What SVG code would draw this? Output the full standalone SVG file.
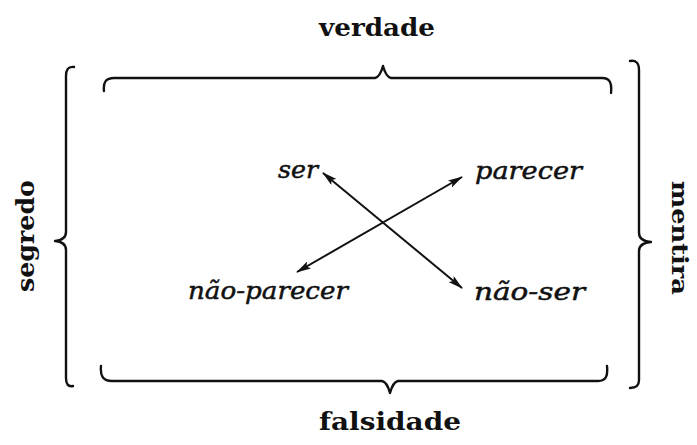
<svg xmlns="http://www.w3.org/2000/svg" width="697" height="445" viewBox="0 0 697 445">
<style>
.lbl{font-family:"DejaVu Serif","Liberation Serif",serif;font-weight:bold;font-size:25px;fill:#111}
.term{font-family:"DejaVu Serif","Liberation Serif",serif;font-style:italic;font-size:25px;fill:#111;stroke:#111;stroke-width:0.5}
.br{fill:none;stroke:#111;stroke-width:2.4;stroke-linecap:round;stroke-linejoin:round}
.ar{fill:none;stroke:#111;stroke-width:2}
</style>
<defs>
<marker id="ah" viewBox="0 0 15 8" refX="14" refY="4" markerWidth="15" markerHeight="8" markerUnits="userSpaceOnUse" orient="auto-start-reverse">
<path d="M0,0 L15,4 L0,8 L3,4 Z" fill="#111"/>
</marker>
</defs>
<rect width="697" height="445" fill="#fff"/>
<g id="verdade"><text class="lbl" x="377" y="36" text-anchor="middle" textLength="116" lengthAdjust="spacingAndGlyphs">verdade</text></g>
<g id="falsidade"><text class="lbl" x="390" y="430" text-anchor="middle" textLength="142" lengthAdjust="spacingAndGlyphs">falsidade</text></g>
<g id="segredo"><text class="lbl" transform="translate(34,236) rotate(-90)" text-anchor="middle" textLength="112" lengthAdjust="spacingAndGlyphs">segredo</text></g>
<g id="mentira"><text class="lbl" style="font-size:23px" transform="translate(672,238) rotate(90)" text-anchor="middle" textLength="114" lengthAdjust="spacingAndGlyphs">mentira</text></g>
<g id="ser"><text class="term" x="278" y="178" textLength="40" lengthAdjust="spacingAndGlyphs">ser</text></g>
<g id="parecer"><text class="term" x="475" y="179" textLength="107" lengthAdjust="spacingAndGlyphs">parecer</text></g>
<g id="nao-parecer"><text class="term" x="188" y="299" textLength="160" lengthAdjust="spacingAndGlyphs">não-parecer</text></g>
<g id="nao-ser"><text class="term" x="474" y="300" textLength="111" lengthAdjust="spacingAndGlyphs">não-ser</text></g>
<g id="braces">
<path class="br" d="M104,91 C103,82 106,78 114,78 L375,78 Q380,77 383,66 Q386,77 391,78 L602,78 C610,78 612,83 611,93"/>
<path class="br" d="M101,366 C100,376 103,381 112,381 L382,381 Q387,382 390,393 Q393,382 398,381 L598,381 C606,381 608,376 607,366"/>
<path class="br" d="M74,67 C68,66 66,70 66,76 L66,232 Q66,240 55,241 Q66,242 66,250 L66,378 C66,384 68,387 73,386"/>
<path class="br" d="M630,61 C636,60 639,63 639,70 L639,233 Q639,241 651,242 Q639,243 639,251 L639,380 C639,386 636,388 630,388"/>
</g>
<g id="connectors">
<line class="ar" x1="323" y1="173" x2="462" y2="288" marker-start="url(#ah)" marker-end="url(#ah)"/>
<line class="ar" x1="297" y1="272" x2="462" y2="177" marker-start="url(#ah)" marker-end="url(#ah)"/>
</g>
</svg>
